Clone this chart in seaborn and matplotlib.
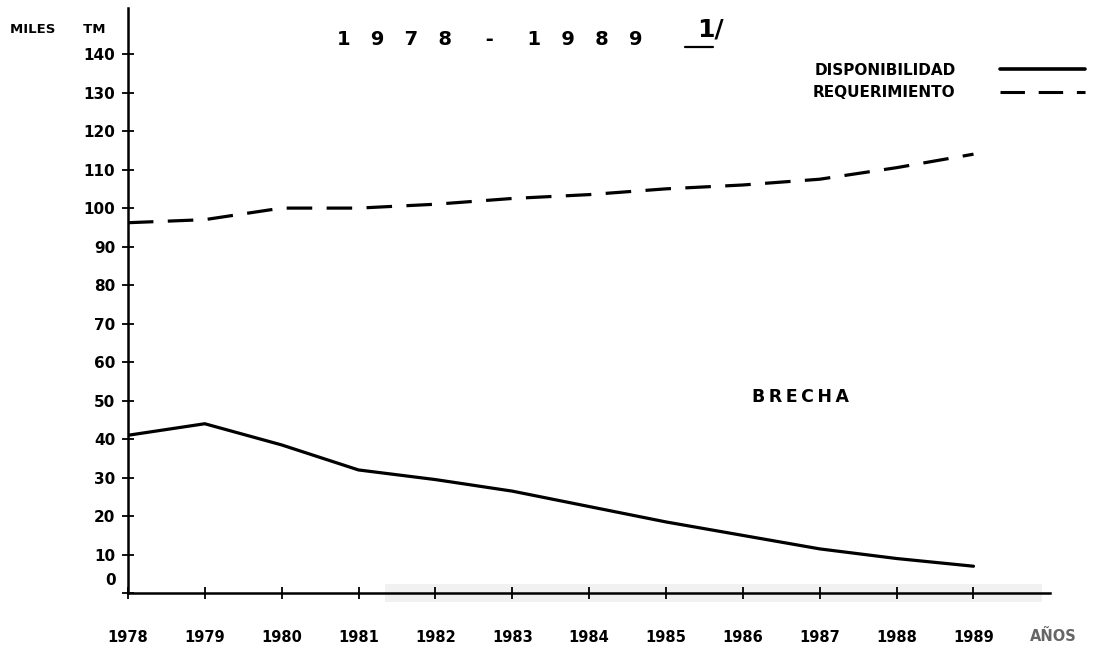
import numpy as np
import pandas as pd
import seaborn as sns
import matplotlib.pyplot as plt
from matplotlib.transforms import ScaledTranslation
from matplotlib.lines import Line2D

# values (miles TM)
years = [1978, 1979, 1980, 1981, 1982, 1983, 1984, 1985, 1986, 1987, 1988, 1989]
disponibilidad = [41, 44, 38.5, 32, 29.5, 26.5, 22.5, 18.5, 15, 11.5, 9, 7]
requerimiento = [96.2, 97, 100, 100, 101, 102.5, 103.5, 105, 106, 107.5, 110.5, 114]
yticks = [0, 10, 20, 30, 40, 50, 60, 70, 80, 90, 100, 110, 120, 130, 140]

df = pd.DataFrame({
	'year': years * 2,
	'value': disponibilidad + requerimiento,
	'serie': ['DISPONIBILIDAD'] * len(years) + ['REQUERIMIENTO'] * len(years),
})

sns.set_style('white')
plt.rcParams['font.family'] = ['DejaVu Sans']
plt.rcParams['font.weight'] = 'bold'
plt.rcParams['text.color'] = 'black'
plt.rcParams['xtick.color'] = 'black'
plt.rcParams['ytick.color'] = 'black'

fig = plt.figure(figsize=(10.93, 6.54), dpi=100)
ax = fig.add_axes([0.117, 0.093, 0.844, 0.895])

dash_styles = {'DISPONIBILIDAD': '', 'REQUERIMIENTO': (8, 4.5)}
sns.lineplot(data=df, x='year', y='value', style='serie', dashes=dash_styles,
			 color='black', linewidth=2.3, legend=False, ax=ax)

ax.set_xlim(1978, 1990)
ax.set_ylim(0, 152)
ax.set_xticks(years)
ax.set_xticklabels([str(y) for y in years], fontsize=10.5, fontweight='bold')
ax.set_yticks(yticks)
ax.set_yticklabels([str(v) for v in yticks], fontsize=11, fontweight='bold')
ax.tick_params(axis='x', bottom=True, direction='inout', length=9, width=1.3, pad=22)
ax.tick_params(axis='y', left=True, direction='inout', length=8, width=1.3, pad=5)
ax.set_xlabel('')
ax.set_ylabel('')

for side in ['top', 'right']:
	ax.spines[side].set_visible(False)
for side in ['left', 'bottom']:
	ax.spines[side].set_color('black')
	ax.spines[side].set_linewidth(1.8)

# faint grey band of the scan along the x axis
ax.axhspan(-2.3, 2.3, xmin=0.279, xmax=0.991, color='#f1f1f1', clip_on=False, zorder=0, lw=0)

# the "0" label sits a bit above the axis in the original
zero_label = ax.get_yticklabels()[0]
zero_label.set_transform(zero_label.get_transform() + ScaledTranslation(0, 10 / 72, fig.dpi_scale_trans))

# legend: labels on the left, line samples on the right
handles = [Line2D([], [], color='black', lw=2.6),
		   Line2D([], [], color='black', lw=2.2, dashes=(8, 4.5))]
fig.legend(handles, ['DISPONIBILIDAD', 'REQUERIMIENTO'], loc='upper right',
		   bbox_to_anchor=(0.993, 0.904), frameon=False, markerfirst=False,
		   borderpad=0, borderaxespad=0,
		   handlelength=5.6, handletextpad=2.9, labelspacing=0.5,
		   prop={'size': 11, 'weight': 'bold'})

fig.text(0.009, 0.955, 'MILES      TM', fontsize=9.5, fontweight='bold', ha='left', va='center')
fig.text(0.448, 0.939, '1   9   7   8     -     1   9   8   9', fontsize=14, ha='center', va='center')
fig.text(0.650, 0.955, '1/', fontsize=18, ha='center', va='center')
fig.add_artist(Line2D([0.627, 0.652], [0.928, 0.928], transform=fig.transFigure, color='black', lw=1.6))
fig.text(0.964, 0.027, 'AÑOS', fontsize=10.5, fontweight='bold', ha='center', va='center', color='#666666')
ax.text(1986.75, 51, 'B\u2009R\u2009E\u2009C\u2009H\u2009A', fontsize=12.5, fontweight='bold', ha='center', va='center')

fig.savefig('out.png', dpi=100)
